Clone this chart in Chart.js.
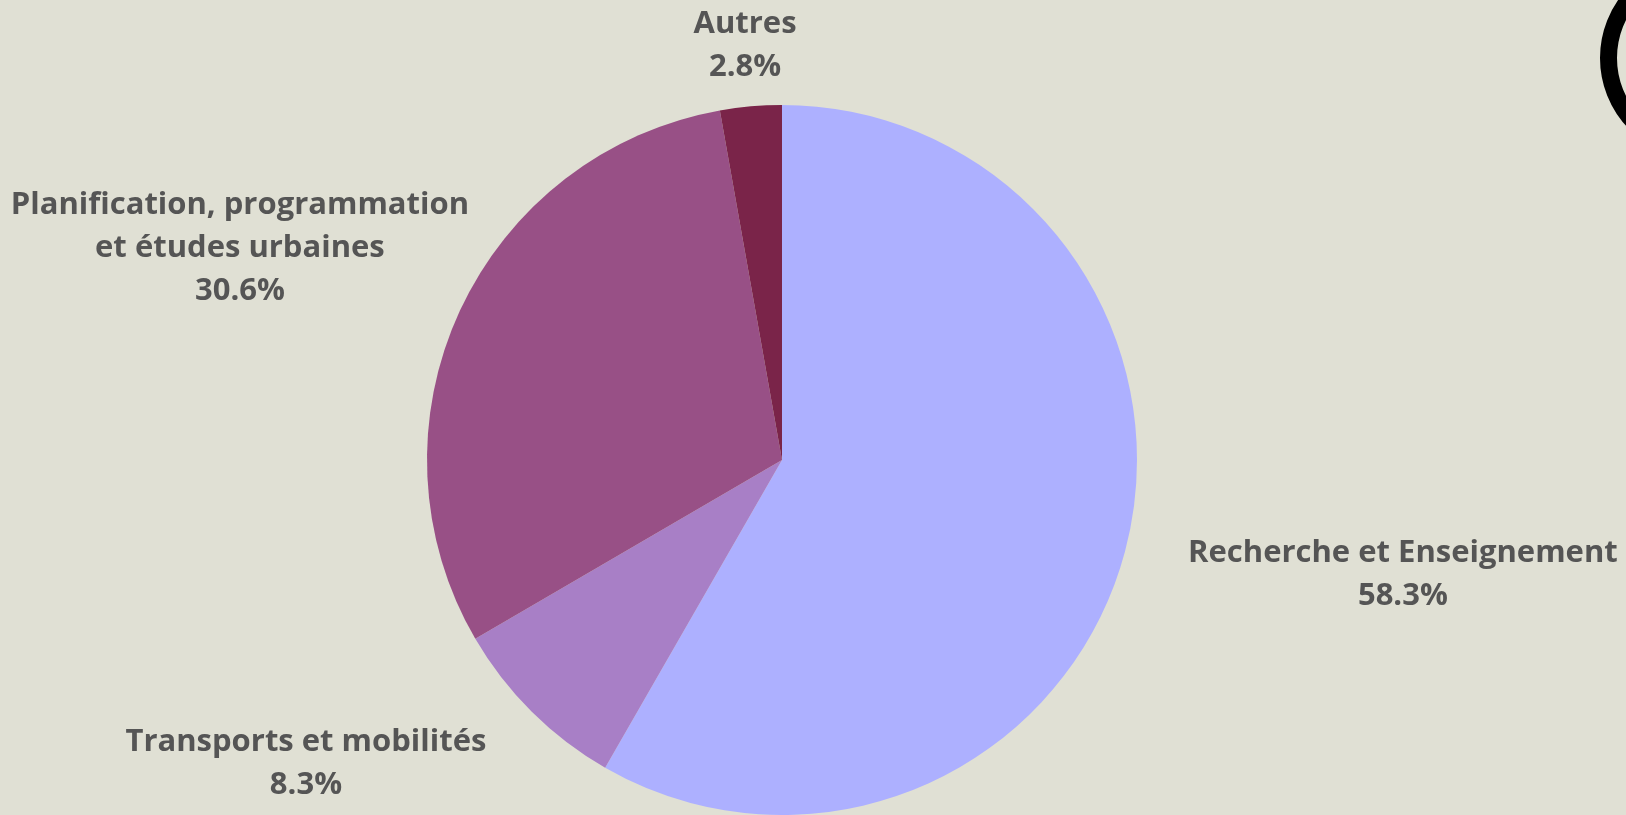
<!DOCTYPE html>
<html>
<head>
<meta charset="utf-8">
<script src="https://cdn.jsdelivr.net/npm/chart.js@4/dist/chart.umd.min.js"></script>
<style>
  html, body { margin: 0; padding: 0; background: #e0e0d4; overflow: hidden; }
  #wrap { position: relative; width: 1626px; height: 815px; }
  #ring { position: absolute; left: 1600px; top: -44px; width: 204px; height: 204px;
          border: 17px solid #000; border-radius: 50%; box-sizing: border-box; }
</style>
</head>
<body>
<div id="wrap">
  <canvas id="c" width="1626" height="815"></canvas>
  <div id="ring"></div>
</div>
<script>
const categories = [
  "Recherche et Enseignement",
  "Transports et mobilités",
  "Planification, programmation\net études urbaines",
  "Autres"
];
const percentages = [58.3, 8.3, 30.6, 2.8];
const sliceColors = ["#adb0ff", "#a87fc6", "#985086", "#7a2449"];

// label block centre offsets, in units of the pie radius
const labelOffsets = [
  [1.749, 0.323],
  [-1.341, 0.856],
  [-1.527, -0.598],
  [-0.104, -1.167]
];

const outsideLabels = {
  id: 'outsideLabels',
  afterDatasetsDraw(chart) {
    const ctx = chart.ctx;
    const meta = chart.getDatasetMeta(0);
    ctx.save();
    ctx.font = "bold 31px 'Open Sans'";
    ctx.fillStyle = "#555555";
    ctx.textAlign = "center";
    ctx.textBaseline = "middle";
    const lh = 43;
    meta.data.forEach((arc, i) => {
      const r = arc.outerRadius;
      const cx = arc.x + labelOffsets[i][0] * r;
      const cy = arc.y + labelOffsets[i][1] * r;
      const lines = categories[i].split("\n").concat([percentages[i].toFixed(1) + "%"]);
      const y0 = cy - (lines.length - 1) * lh / 2;
      lines.forEach((t, k) => ctx.fillText(t, cx, y0 + k * lh));
    });
    ctx.restore();
  }
};

new Chart(document.getElementById('c'), {
  type: 'pie',
  data: {
    labels: categories,
    datasets: [{
      data: percentages,
      backgroundColor: sliceColors,
      borderWidth: 0
    }]
  },
  options: {
    responsive: false,
    animation: false,
    layout: { padding: { top: 105, bottom: 0, left: 0, right: 62 } },
    plugins: { legend: { display: false }, tooltip: { enabled: false } }
  },
  plugins: [outsideLabels]
});
</script>
</body>
</html>
